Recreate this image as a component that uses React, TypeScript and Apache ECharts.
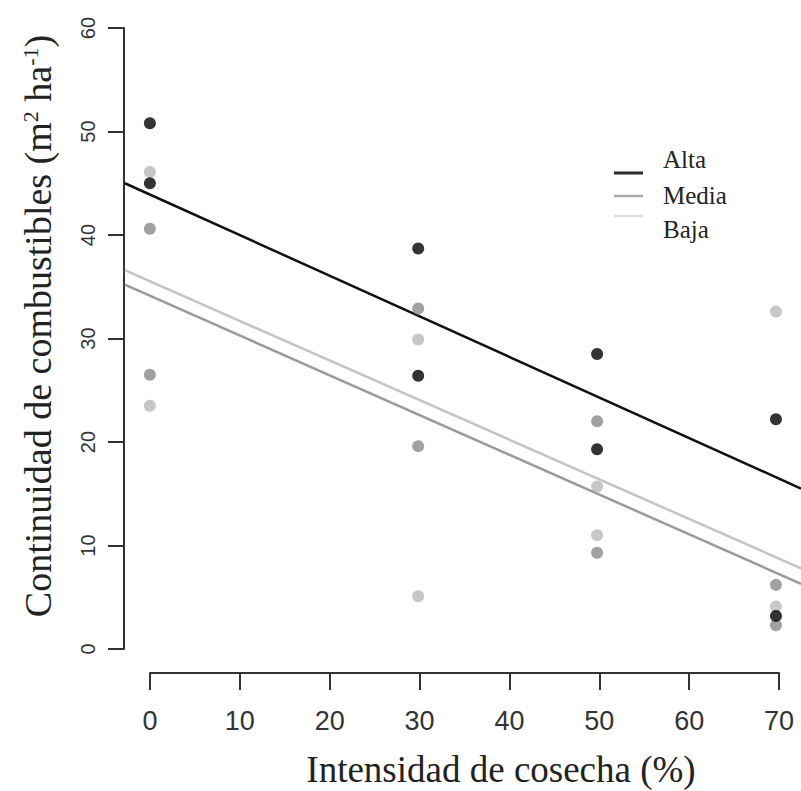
import React, { useEffect, useRef } from "react";
import * as echarts from "echarts";

// Harvest intensity (%) for each observation
const obsX = [0, 0, 30, 30, 50, 50, 70, 70];
// Fuel continuity (m2 ha-1) per site quality
const altaY = [50.8, 45.0, 38.7, 26.4, 28.5, 19.3, 22.2, 3.2];
const mediaY = [40.6, 26.5, 32.9, 19.6, 22.0, 9.3, 6.2, 2.3];
const bajaY = [46.1, 23.5, 29.9, 5.1, 15.7, 11.0, 32.6, 4.1];

// Fitted regression lines, read at the plot-region edges
const lineX = [-2.8, 72.8];
const altaLine = [45.0, 15.5];
const mediaLine = [35.2, 6.3];
const bajaLine = [36.6, 7.8];

// Axis ranges: ticks, and the R-style plot region (4% padding)
const xTicks = [0, 10, 20, 30, 40, 50, 60, 70];
const yTicks = [0, 10, 20, 30, 40, 50, 60];
const xRegion = [-2.8, 72.8];
const yRegion = [-2.4, 62.4];

const legendNames = ["Alta", "Media", "Baja"];

const pts = (ys: number[]) => obsX.map((x, i) => [x, ys[i]]);
const ln = (ys: number[]) => lineX.map((x, i) => [x, ys[i]]);

export default function App() {
  const ref = useRef<HTMLDivElement>(null);
  useEffect(() => {
    if (!ref.current) return;
    const chart = echarts.init(ref.current, null, { renderer: "svg" });
    const axisColor = "#333";
    // axes grid: 0..70 spans 150..779 px, 0..60 spans 649..28 px
    const axL = 150, axT = 28, axW = 629, axH = 621;
    const pxX = axW / (xTicks[xTicks.length - 1] - xTicks[0]);
    const pxY = axH / (yTicks[yTicks.length - 1] - yTicks[0]);
    const plotL = axL + (xRegion[0] - xTicks[0]) * pxX;
    const plotW = (xRegion[1] - xRegion[0]) * pxX;
    const plotT = axT - (yRegion[1] - yTicks[yTicks.length - 1]) * pxY;
    const plotH = (yRegion[1] - yRegion[0]) * pxY;
    chart.setOption({
      animation: false,
      backgroundColor: "#fff",
      grid: [
        { left: plotL, top: plotT, width: plotW, height: plotH },
        { left: axL, top: axT, width: axW, height: axH },
      ],
      xAxis: [
        {
          gridIndex: 0, type: "value", min: xRegion[0], max: xRegion[1],
          show: false, splitLine: { show: false },
          axisLine: { show: false, onZero: false },
        },
        {
          gridIndex: 1,
          type: "value",
          position: "bottom",
          min: xTicks[0],
          max: xTicks[xTicks.length - 1],
          interval: 10,
          offset: 24,
          splitLine: { show: false },
          axisLine: { show: true, onZero: false, lineStyle: { color: axisColor, width: 2 } },
          axisTick: { show: true, length: 17, lineStyle: { color: axisColor, width: 2 } },
          axisLabel: {
            margin: 34,
            color: "#333",
            fontSize: 27,
            fontFamily: "'Liberation Sans Narrow', 'Liberation Sans', Arial, sans-serif",
          },
        },
      ],
      yAxis: [
        {
          gridIndex: 0, type: "value", min: yRegion[0], max: yRegion[1],
          show: false, splitLine: { show: false },
          axisLine: { show: false, onZero: false },
        },
        {
          gridIndex: 1,
          type: "value",
          position: "left",
          min: yTicks[0],
          max: yTicks[yTicks.length - 1],
          interval: 10,
          offset: 26,
          splitLine: { show: false },
          axisLine: { show: true, onZero: false, lineStyle: { color: axisColor, width: 2 } },
          axisTick: { show: true, length: 16, lineStyle: { color: axisColor, width: 2 } },
          axisLabel: {
            rotate: 90,
            margin: 26,
            color: "#333",
            fontSize: 20,
            fontFamily: "'Liberation Sans', Arial, sans-serif",
          },
        },
      ],
      series: [
        { name: "Alta", type: "line", xAxisIndex: 0, yAxisIndex: 0, data: ln(altaLine), showSymbol: false, lineStyle: { color: "#111111", width: 2.5 }, z: 2 },
        { name: "Media", type: "line", xAxisIndex: 0, yAxisIndex: 0, data: ln(mediaLine), showSymbol: false, lineStyle: { color: "#9a9a9a", width: 2.5 }, z: 2 },
        { name: "Baja", type: "line", xAxisIndex: 0, yAxisIndex: 0, data: ln(bajaLine), showSymbol: false, lineStyle: { color: "#c4c4c4", width: 2.5 }, z: 2 },
        { name: "Baja puntos", type: "scatter", xAxisIndex: 0, yAxisIndex: 0, data: pts(bajaY), symbolSize: 12, itemStyle: { color: "#b9b9b9" }, z: 3 },
        { name: "Media puntos", type: "scatter", xAxisIndex: 0, yAxisIndex: 0, data: pts(mediaY), symbolSize: 12, itemStyle: { color: "#8a8a8a" }, z: 4 },
        { name: "Alta puntos", type: "scatter", xAxisIndex: 0, yAxisIndex: 0, data: pts(altaY), symbolSize: 12, itemStyle: { color: "#000000" }, z: 5 },
      ],
      graphic: [
        {
          type: "text",
          x: 38,
          y: 326,
          rotation: Math.PI / 2,
          style: {
            text: "Continuidad de combustibles (m{sup|2} ha{sup|-1})",
            font: "38px 'Liberation Serif', 'Times New Roman', serif",
            fill: "#222",
            align: "center",
            verticalAlign: "middle",
            rich: {
              sup: {
                fontSize: 22,
                fontFamily: "'Liberation Serif', 'Times New Roman', serif",
                fill: "#222",
                verticalAlign: "top",
              },
            },
          },
        },
        {
          type: "text",
          x: 501,
          y: 769,
          style: {
            text: "Intensidad de cosecha (%)",
            font: "37px 'Liberation Serif', 'Times New Roman', serif",
            fill: "#222",
            align: "center",
            verticalAlign: "middle",
          },
        },
        { type: "line", shape: { x1: 614, y1: 173, x2: 643, y2: 173 }, style: { stroke: "#2a2a2a", lineWidth: 3 } },
        { type: "line", shape: { x1: 614, y1: 196, x2: 643, y2: 196 }, style: { stroke: "#aaaaaa", lineWidth: 2.5 } },
        { type: "line", shape: { x1: 614, y1: 216, x2: 643, y2: 216 }, style: { stroke: "#dddddd", lineWidth: 2.5 } },
        ...legendNames.map((n, i) => ({
          type: "text",
          x: 663,
          y: [159, 195, 229][i],
          style: {
            text: n,
            font: "25px 'Liberation Serif', 'Times New Roman', serif",
            fill: "#222",
            align: "left",
            verticalAlign: "middle",
          },
        })),
      ],
    });
    return () => chart.dispose();
  }, []);
  return (
    <div
      ref={ref}
      style={{ position: "fixed", left: 0, top: 0, width: 801, height: 791, background: "#fff" }}
    />
  );
}
